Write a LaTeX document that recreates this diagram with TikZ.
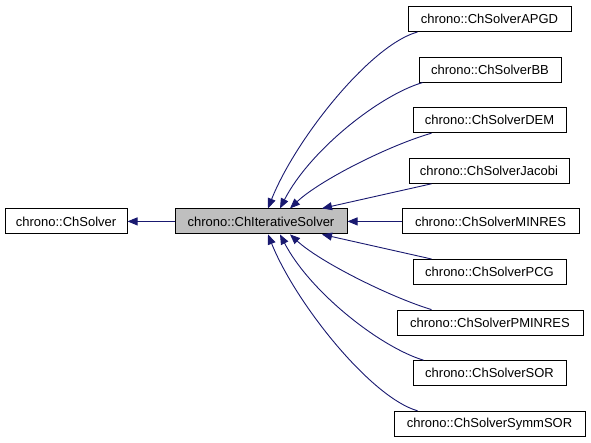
\documentclass[tikz,border=0pt]{standalone}
\usepackage{fontspec}
\setmainfont{Liberation Sans}
\usetikzlibrary{arrows.meta}
\definecolor{edgeblue}{HTML}{191970}
\definecolor{boxgray}{HTML}{BFBFBF}
\tikzset{
  cls/.style={draw=black, line width=1pt, fill=white, minimum height=25pt, inner sep=0pt, font=\fontsize{13}{15}\selectfont, anchor=center},
  cur/.style={cls, fill=boxgray},
  edge/.style={draw=edgeblue, line width=0.9pt, -{Triangle[length=10pt,width=8pt]}}
}
\begin{document}
\begin{tikzpicture}[x=1pt,y=-1pt]
\useasboundingbox (0,0) rectangle (591,443);
\node[cls, minimum width=122pt] (solver) at (66,221.4) {chrono::ChSolver};
\node[cur, minimum width=172pt] (it) at (261,221.4) {chrono::ChIterativeSolver};
\node[cls, minimum width=163pt] (apgd) at (489.5,19) {chrono::ChSolverAPGD};
\node[cls, minimum width=142pt] (bb) at (490,69.6) {chrono::ChSolverBB};
\node[cls, minimum width=153pt] (dem) at (489.5,120.2) {chrono::ChSolverDEM};
\node[cls, minimum width=160pt] (jacobi) at (489,170.8) {chrono::ChSolverJacobi};
\node[cls, minimum width=177pt] (minres) at (490.5,221.4) {chrono::ChSolverMINRES};
\node[cls, minimum width=153pt] (pcg) at (489.5,272) {chrono::ChSolverPCG};
\node[cls, minimum width=186pt] (pminres) at (490,322.6) {chrono::ChSolverPMINRES};
\node[cls, minimum width=153pt] (sor) at (489.5,373.2) {chrono::ChSolverSOR};
\node[cls, minimum width=191pt] (symm) at (489.5,423.8) {chrono::ChSolverSymmSOR};

\draw[edge] (it.west) -- (solver.east);
\draw[edge] ([xshift=10pt]apgd.south west) .. controls (370,45) and (295,140) .. ([xshift=7pt]it.north);
\draw[edge] ([xshift=4pt]bb.south west) .. controls (380,95) and (310,150) .. ([xshift=19pt]it.north);
\draw[edge] ([xshift=19pt]dem.south west) .. controls (390,145) and (320,180) .. ([xshift=29pt]it.north);
\draw[edge] ([xshift=23pt]jacobi.south west) -- ([xshift=61pt]it.north);
\draw[edge] (minres.west) -- (it.east);
\draw[edge] ([xshift=19pt]pcg.north west) -- ([xshift=61pt]it.south);
\draw[edge] ([xshift=35pt]pminres.north west) .. controls (390,297) and (320,262) .. ([xshift=29pt]it.south);
\draw[edge] ([xshift=11pt]sor.north west) .. controls (380,347) and (310,292) .. ([xshift=19pt]it.south);
\draw[edge] ([xshift=24pt]symm.north west) .. controls (370,397) and (295,302) .. ([xshift=7pt]it.south);
\end{tikzpicture}
\end{document}
